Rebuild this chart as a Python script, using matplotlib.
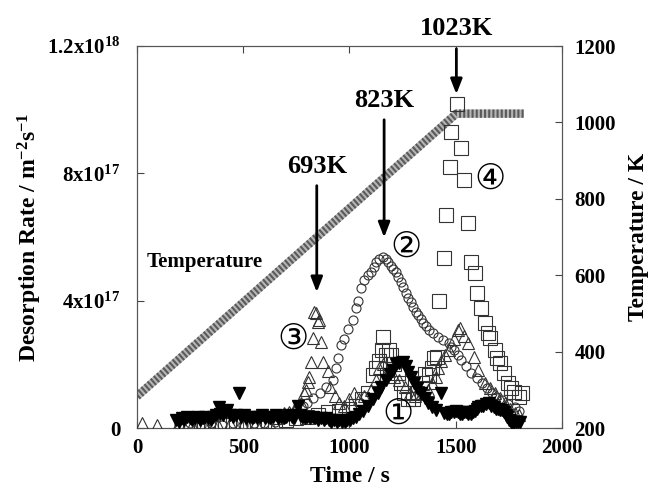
import numpy as np
import matplotlib.pyplot as plt

plt.rcParams['font.family'] = ['Liberation Serif', 'DejaVu Sans', 'Noto Sans CJK JP']
plt.rcParams['font.weight'] = 'bold'
plt.rcParams['mathtext.fontset'] = 'custom'
plt.rcParams['mathtext.rm'] = 'Liberation Serif:bold'
plt.rcParams['mathtext.it'] = 'Liberation Serif:bold'
plt.rcParams['mathtext.bf'] = 'Liberation Serif:bold'

# temperature ramp (K)
temp_t = [0, 1503, 1820]
temp_k = [283, 1023, 1023]

# (1) filled down-triangles, rate in 1e17 m^-2 s^-1
t1 = [185, 198, 210, 222, 235, 248, 260, 272, 285, 298, 310, 322, 335, 348, 360, 372,
      385, 392, 405, 418, 425, 440, 452, 465, 478, 490, 502, 515, 528, 540, 552, 565,
      578, 590, 602, 615, 628, 640, 652, 665, 678, 690, 702, 715, 728, 740, 757, 765,
      778, 790, 802, 815, 828, 840, 852, 865, 878, 890, 902, 915, 928, 940, 952, 965,
      978, 990, 1002, 1015, 1030, 1045, 1065, 1087, 1110, 1134, 1150, 1172, 1190, 1205,
      1220, 1235, 1253, 1265, 1277, 1290, 1305, 1320, 1338, 1355, 1371, 1390, 1409, 1430,
      1447, 1460, 1470, 1480, 1490, 1500, 1510, 1520, 1530, 1540, 1550, 1560, 1570, 1580,
      1590, 1600, 1607, 1618, 1630, 1642, 1655, 1668, 1680, 1690, 1700, 1708, 1716, 1726,
      1735, 1742, 1750, 1760, 1768, 1776, 1785, 1793, 1801]
r1 = [0.25, 0.2, 0.3, 0.25, 0.35, 0.3, 0.25, 0.3, 0.35, 0.25, 0.3, 0.35, 0.3, 0.25, 0.35, 0.4,
      0.66, 0.45, 0.4, 0.5, 0.57, 0.4, 0.35, 0.4, 1.1, 0.35, 0.4, 0.3, 0.35, 0.3, 0.35, 0.3,
      0.35, 0.4, 0.3, 0.35, 0.3, 0.35, 0.4, 0.3, 0.35, 0.3, 0.35, 0.4, 0.35, 0.3, 0.7, 0.4,
      0.35, 0.3, 0.35, 0.3, 0.35, 0.3, 0.25, 0.3, 0.25, 0.3, 0.25, 0.2, 0.25, 0.2, 0.25, 0.2,
      0.2, 0.25, 0.25, 0.3, 0.35, 0.45, 0.55, 0.7, 0.9, 1.1, 1.3, 1.5, 1.7, 1.82,
      2.0, 2.05, 2.07, 1.95, 1.76, 1.6, 1.41, 1.25, 1.1, 0.95, 0.79, 0.65, 0.57, 1.1,
      0.47, 0.45, 0.45, 0.5, 0.5, 0.55, 0.5, 0.45, 0.45, 0.5, 0.5, 0.45, 0.45, 0.5,
      0.55, 0.6, 0.66, 0.7, 0.7, 0.75, 0.79, 0.7, 0.65, 0.6, 0.6, 0.57, 0.57, 0.5,
      0.4, 0.35, 0.25, 0.2, 0.16, 0.2, 0.2, 0.18, 0.19]

# (2) open circles
t2 = [200, 250, 300, 350, 400, 450, 500, 550, 600, 650, 690, 720, 750, 780, 800, 830,
      860, 890, 922, 936, 945, 960, 974, 993, 1017, 1031, 1040, 1054, 1069, 1085, 1102,
      1115, 1125, 1140, 1158, 1170, 1182, 1195, 1205, 1218, 1229, 1241, 1253, 1265, 1277,
      1290, 1300, 1312, 1324, 1336, 1348, 1362, 1376, 1395, 1418, 1440, 1466, 1480, 1494,
      1510, 1527, 1550, 1574, 1598, 1622, 1645, 1669, 1690, 1716, 1745, 1778, 1800]
r2 = [0.1, 0.15, 0.1, 0.15, 0.1, 0.15, 0.1, 0.15, 0.15, 0.2, 0.3, 0.45, 0.55, 0.7, 0.8, 0.95,
      1.1, 1.3, 1.51, 1.9, 2.2, 2.6, 2.8, 3.1, 3.4, 3.77, 4.0, 4.4, 4.65, 4.8, 4.9,
      5.05, 5.2, 5.3, 5.37, 5.3, 5.2, 5.1, 5.0, 4.9, 4.75, 4.6, 4.43, 4.25, 4.08,
      3.95, 3.8, 3.65, 3.55, 3.42, 3.3, 3.2, 3.08, 2.98, 2.86, 2.78, 2.67, 2.55, 2.45,
      2.3, 2.14, 1.95, 1.73, 1.57, 1.41, 1.25, 1.1, 0.98, 0.88, 0.77, 0.66, 0.55]

# (3) open triangles
t3 = [23, 94, 200, 260, 320, 380, 440, 500, 560, 620, 660, 690, 715, 738, 755, 771, 785,
      794, 803, 810, 818, 827, 833, 842, 851, 856, 865, 875, 898, 910, 930, 950, 975,
      1000, 1021, 1045, 1070, 1100, 1125, 1140, 1160, 1185, 1210, 1235, 1260, 1285, 1310,
      1340, 1370, 1390, 1405, 1418, 1432, 1450, 1466, 1490, 1513, 1518, 1540, 1560, 1584,
      1607, 1636, 1660, 1683, 1706, 1730, 1755, 1778, 1800]
r3 = [0.16, 0.1, 0.15, 0.1, 0.15, 0.1, 0.15, 0.1, 0.15, 0.2, 0.3, 0.47, 0.5, 0.57, 0.7, 0.8, 1.1,
      1.2, 1.44, 1.6, 2.07, 2.83, 3.64, 3.6, 3.33, 3.4, 2.7, 2.07, 1.8, 1.3, 1.0, 0.8, 0.7,
      0.9, 1.1, 0.9, 1.0, 1.2, 1.5, 1.9, 2.0, 1.8, 1.6, 1.5, 1.3, 1.1, 1.0,
      1.1, 1.2, 1.4, 1.6, 1.9, 2.1, 2.3, 2.45, 2.8, 3.08, 3.14, 2.9, 2.67, 2.23,
      1.82, 1.41, 1.25, 1.1, 0.95, 0.78, 0.6, 0.47, 0.4]

# (4) open squares
t4 = [250, 300, 350, 400, 450, 500, 550, 600, 650, 700, 750, 800, 850, 900, 950, 1000,
      1030, 1060, 1085, 1111, 1125, 1140, 1153, 1158, 1170, 1187, 1196, 1210, 1229, 1243,
      1257, 1275, 1300, 1320, 1340, 1357, 1376, 1390, 1400, 1410, 1423, 1445, 1456, 1471,
      1480, 1508, 1527, 1541, 1556, 1570, 1589, 1598, 1617, 1636, 1650, 1660, 1683, 1695,
      1707, 1726, 1745, 1760, 1773, 1797, 1810]
r4 = [0.1, 0.15, 0.1, 0.15, 0.1, 0.2, 0.15, 0.2, 0.2, 0.25, 0.3, 0.35, 0.4, 0.5, 0.55, 0.6,
      0.7, 0.9, 1.1, 1.66, 1.9, 2.1, 2.45, 2.86, 2.3, 2.45, 2.3, 2.0, 1.73, 1.4,
      1.1, 0.9, 0.9, 1.1, 1.4, 1.7, 1.66, 1.9, 2.2, 2.22, 4.0, 5.34, 6.7, 8.2,
      9.3, 10.18, 8.8, 7.8, 6.44, 5.2, 4.87, 4.24, 3.77, 3.3, 3.0, 2.83, 2.45, 2.2,
      2.04, 1.73, 1.41, 1.25, 1.13, 0.97, 1.1]

scale = 1e17

fig = plt.figure(figsize=(6.53, 4.9), dpi=100)
ax = fig.add_axes([0.2098, 0.1265, 0.6508, 0.7796])
ax2 = ax.twinx()

# hatched-looking temperature band
ax2.plot(temp_t, temp_k, color='#b5b5b5', lw=6, solid_capstyle='butt', zorder=1)
ax2.plot(temp_t, temp_k, color='#5a5a5a', lw=6, ls=(0, (0.25, 0.25)), zorder=2)

ax.plot(t4, np.array(r4) * scale, 's', ms=9.5, mfc='none', mec='#333333', mew=0.8, zorder=3)
ax.plot(t3, np.array(r3) * scale, '^', ms=9, mfc='none', mec='#333333', mew=0.8, zorder=3)
ax.plot(t2, np.array(r2) * scale, 'o', ms=6.5, mfc='none', mec='#333333', mew=0.8, zorder=3)
ax.plot(t1, np.array(r1) * scale, 'v', ms=9, color='black', zorder=4)

ax.set_zorder(ax2.get_zorder() + 1)
ax.patch.set_visible(False)

ax.set_xlim(0, 2000)
ax.set_ylim(0, 1.2e18)
ax2.set_ylim(200, 1200)

ax.set_xticks([0, 500, 1000, 1500, 2000])
ax.set_yticks([0, 4e17, 8e17, 1.2e18])
ax.set_yticklabels(['0', r'4x10$^{17}$', r'8x10$^{17}$', r'1.2x10$^{18}$'])
ax2.set_yticks([200, 400, 600, 800, 1000, 1200])

for a in (ax, ax2):
    a.tick_params(direction='in', length=5, width=0.8, labelsize=15, color='#444444')
    for s in a.spines.values():
        s.set_color('#555555')
        s.set_linewidth(0.8)
ax.tick_params(axis='y', pad=12)
ax.tick_params(axis='x', pad=7, top=True)
ax2.tick_params(axis='y', pad=9)

ax.set_xlabel('Time / s', fontsize=17, fontweight='bold', labelpad=6)
ax.set_ylabel(r'Desorption Rate / m$^{-2}$s$^{-1}$', fontsize=17, fontweight='bold', labelpad=2)
ax2.set_ylabel('Temperature / K', fontsize=17, fontweight='bold', labelpad=9)

ax.text(47, 5.2e17, 'Temperature', fontsize=15, fontweight='bold', va='center', ha='left')

arrows = [('693K', 846, 7.7e17, 4.18e17, 8.2e17),
          ('823K', 1163, 9.77e17, 5.9e17, 10.3e17),
          ('1023K', 1503, 1.2e18, 1.04e18, 12.56e17)]
for lab, x, y0, y1, ty in arrows:
    ax.annotate('', xy=(x, y1), xytext=(x, y0),
                arrowprops=dict(arrowstyle='-|>,head_length=0.9,head_width=0.35',
                                color='black', lw=2), zorder=6, annotation_clip=False)
    ax.text(x, ty, lab, fontsize=19, fontweight='bold', ha='center', va='center',
            clip_on=False)

circ = [('\u2460', 1229, 0.4e17), ('\u2461', 1267, 5.65e17),
        ('\u2462', 733, 2.76e17), ('\u2463', 1660, 7.8e17)]
for c, x, y in circ:
    ax.text(x, y, c, fontsize=25, fontweight='normal', ha='center', va='center', zorder=7)

fig.savefig('out.png', dpi=100)
